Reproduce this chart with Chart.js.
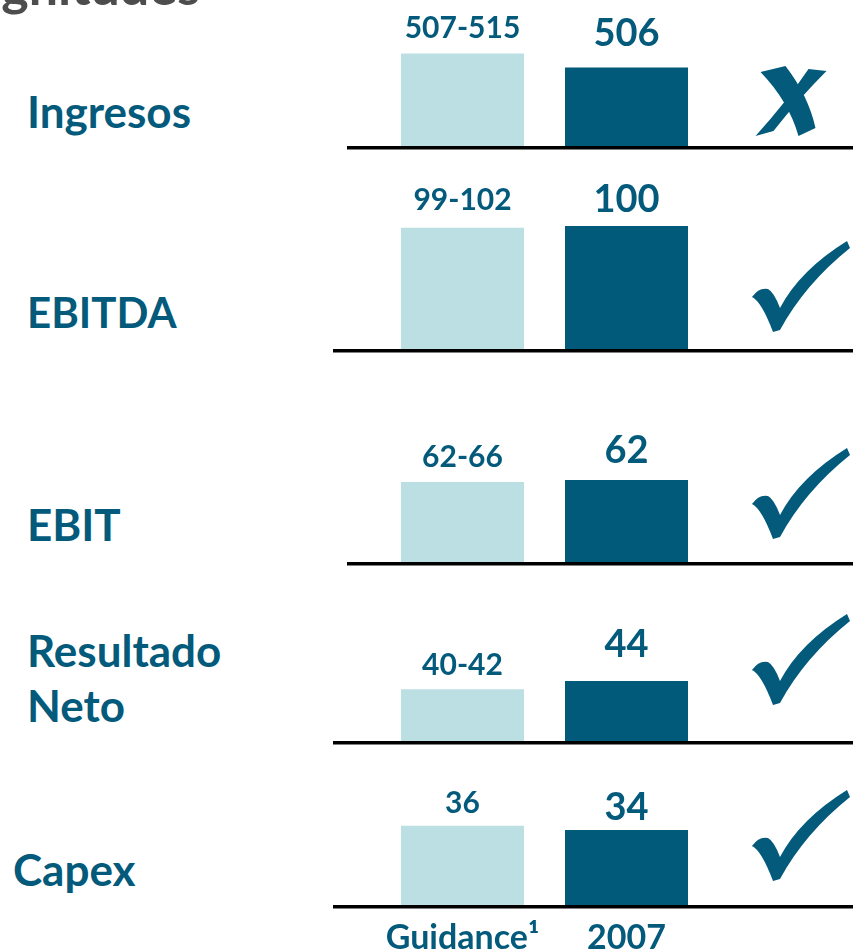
<!DOCTYPE html>
<html>
<head>
<meta charset="utf-8">
<script src="https://cdn.jsdelivr.net/npm/chart.js@4.4.0/dist/chart.umd.min.js"></script>
<style>
html,body{margin:0;padding:0;overflow:hidden;background:#fff}
body{width:853px;height:951px;position:relative;font-family:Lato,"Open Sans",sans-serif;font-weight:700;color:#045a7b}
.title{position:absolute;right:653px;top:-41px;font-size:52px;line-height:1;color:#4d4d4d;white-space:nowrap}
.lbl{position:absolute;font-size:44px;line-height:1;white-space:nowrap}
canvas{position:absolute;left:333px}
</style>
</head>
<body>
<div class="title">Magnitudes</div>
<script>
// datos
const metrics = ["Ingresos", "EBITDA", "EBIT", "Resultado\nNeto", "Capex"];
const columns = ["Guidance¹", "2007"];
const guidanceLabels = ["507-515", "99-102", "62-66", "40-42", "36"];
const guidanceValues = [511, 98.5, 60.5, 38, 36];
const actualValues = [506, 100, 62, 44, 34];
const targetMet = [false, true, true, true, true];
const axisMin = [478, 0, 0, 0, 0];
const axisMax = [528, 113.8, 105.9, 102.7, 63.5];

const ink = "#045a7b";
const light = "#bbdfe2";
const dark = "#025a7b";

// posicion de cada bloque en la pagina
const panels = [
    {base:146, lineFrom:14, markDy:-45, gapG:16, gapA:22, lblX:27, lblY:128, lblSize:44},
    {base:349, lineFrom:0,  markDy:-63, gapG:18, gapA:14, lblX:27, lblY:328, lblSize:42},
    {base:562, lineFrom:14, markDy:-69, gapG:15, gapA:17, lblX:27, lblY:541, lblSize:44},
    {base:741, lineFrom:0,  markDy:-82, gapG:14, gapA:24, lblX:27, lblY:667, lblSize:44},
    {base:905, lineFrom:0,  markDy:-70, gapG:13, gapA:10, lblX:13, lblY:886, lblSize:44}
];

function drawCheck(ctx, x, y){
    ctx.save();
    ctx.translate(x, y);
    ctx.fillStyle = ink;
    ctx.beginPath();
    ctx.moveTo(-49, 11);
    ctx.quadraticCurveTo(-42, 1, -33, 3);
    ctx.quadraticCurveTo(-27, 6, -21, 22);
    ctx.quadraticCurveTo(-1, -16, 46, -45);
    ctx.lineTo(49, -38);
    ctx.quadraticCurveTo(4, -2, -21, 44);
    ctx.lineTo(-28, 46);
    ctx.quadraticCurveTo(-39.5, 15.5, -49, 11);
    ctx.closePath();
    ctx.fill();
    ctx.restore();
}

function drawCross(ctx, x, y){
    ctx.save();
    ctx.translate(x, y);
    ctx.fillStyle = ink;
    ctx.beginPath();
    ctx.moveTo(-30, -29);
    ctx.lineTo(-5, -35);
    ctx.quadraticCurveTo(18, -5, 25, 27);
    ctx.lineTo(8, 35);
    ctx.quadraticCurveTo(-2, 0, -30, -29);
    ctx.closePath();
    ctx.fill();
    ctx.beginPath();
    ctx.moveTo(18, -32);
    ctx.lineTo(36, -30);
    ctx.quadraticCurveTo(8, -2, -17, 30);
    ctx.lineTo(-35, 35);
    ctx.quadraticCurveTo(-5, 2, 18, -32);
    ctx.closePath();
    ctx.fill();
    ctx.restore();
}

const panelDecor = {
    id: "panelDecor",
    afterDatasetsDraw(chart, args, opts){
        const ctx = chart.ctx;
        const area = chart.chartArea;
        const xs = chart.scales.x;
        const bars = chart.getDatasetMeta(0).data;
        ctx.save();
        ctx.fillStyle = "#000";
        ctx.fillRect(opts.lineFrom, area.bottom, chart.width - opts.lineFrom, 3.5);

        ctx.fillStyle = ink;
        ctx.textAlign = "center";
        ctx.textBaseline = "alphabetic";
        ctx.font = "bold 30px Lato";
        ctx.fillText(opts.texts[0], bars[0].x, bars[0].y - opts.gapG);
        ctx.font = "bold 38px Lato";
        ctx.fillText(opts.texts[1], bars[1].x, bars[1].y - opts.gapA);

        const step = xs.getPixelForValue(1) - xs.getPixelForValue(0);
        const mx = xs.getPixelForValue(1) + step;
        const my = area.bottom + opts.markDy;
        if(opts.met) drawCheck(ctx, mx + 10.5, my);
        else drawCross(ctx, mx, my);

        if(opts.showColumns){
            ctx.fillStyle = ink;
            ctx.font = "bold 34px Lato";
            for(let k=0; k<columns.length; k++){
                ctx.fillText(columns[k], xs.getPixelForValue(k), area.bottom + 44);
            }
        }
        ctx.restore();
    }
};

function build(){
    for(let i=0; i<metrics.length; i++){
        let p = panels[i];

        let lines = metrics[i].split("\n");
        for(let j=0; j<lines.length; j++){
            let d = document.createElement("div");
            d.className = "lbl";
            d.textContent = lines[j];
            d.style.fontSize = p.lblSize + "px";
            d.style.left = p.lblX + "px";
            d.style.top = (p.lblY + j*55 - 0.887*p.lblSize) + "px";
            document.body.appendChild(d);
        }

        let cv = document.createElement("canvas");
        cv.width = 520;
        cv.height = 235;
        cv.style.top = (p.base - 185) + "px";
        document.body.appendChild(cv);

        new Chart(cv, {
            type:"bar",
            data:{
                labels:columns,
                datasets:[{
                    data:[guidanceValues[i], actualValues[i]],
                    backgroundColor:[light, dark],
                    categoryPercentage:1,
                    barPercentage:0.75
                }]
            },
            options:{
                responsive:false,
                animation:false,
                layout:{padding:{left:47.5, right:144.5, top:45, bottom:50}},
                plugins:{
                    legend:{display:false},
                    tooltip:{enabled:false},
                    panelDecor:{
                        texts:[guidanceLabels[i], String(actualValues[i])],
                        met:targetMet[i],
                        lineFrom:p.lineFrom,
                        markDy:p.markDy,
                        gapG:p.gapG,
                        gapA:p.gapA,
                        showColumns:i === metrics.length-1
                    }
                },
                scales:{
                    x:{display:false},
                    y:{display:false, min:axisMin[i], max:axisMax[i]}
                }
            },
            plugins:[panelDecor]
        });
    }
}

Promise.all([
    document.fonts.load("bold 30px Lato"),
    document.fonts.load("bold 44px Lato")
]).then(build, build);
</script>
</body>
</html>
